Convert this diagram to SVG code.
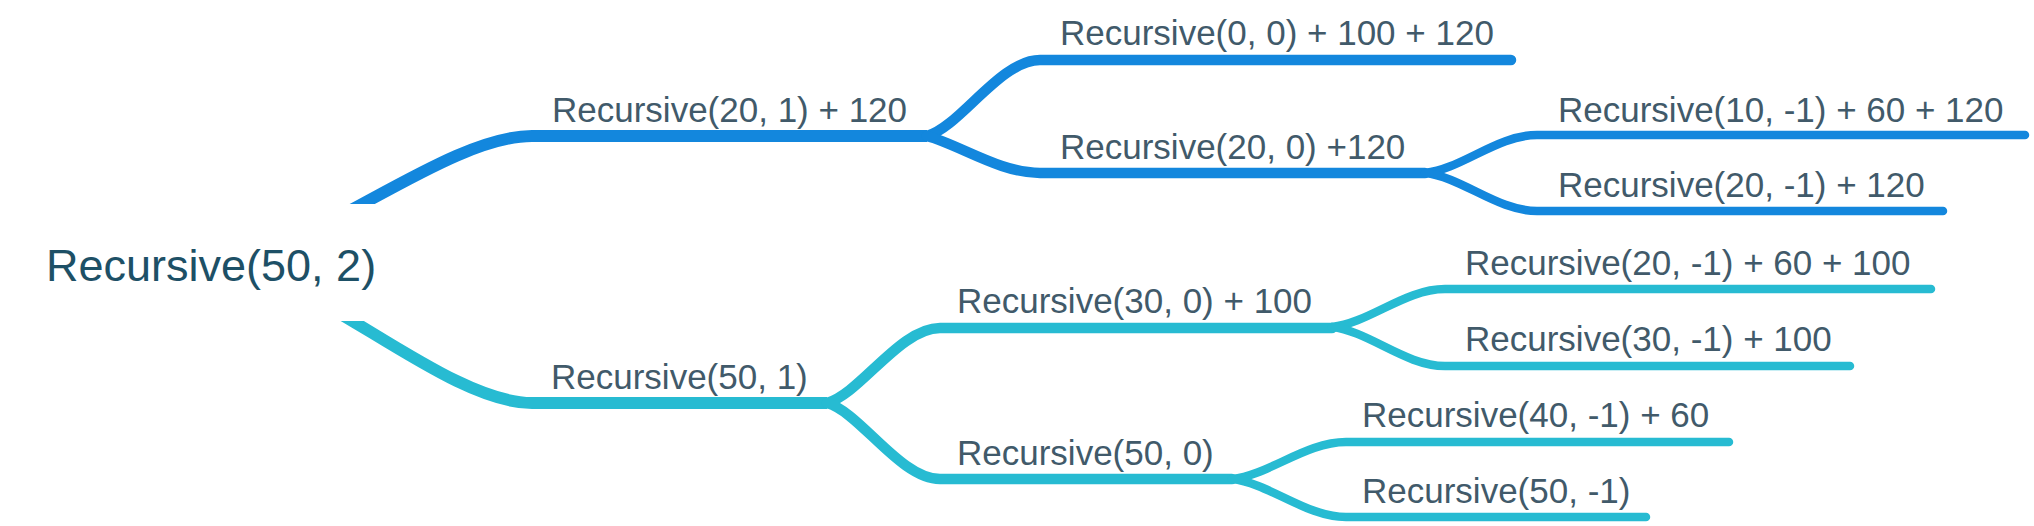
<svg xmlns="http://www.w3.org/2000/svg" width="2034" height="526" viewBox="0 0 2034 526">
<style>
.lbl{font-family:"Liberation Sans",Arial,sans-serif;font-size:35px;fill:#415a6a}
.root{font-family:"Liberation Sans",Arial,sans-serif;font-size:45px;fill:#1d5066}
.b{fill:none;stroke:#1387dd;stroke-linecap:round}
.c{fill:none;stroke:#27bbd2;stroke-linecap:round}
.w1{stroke-width:12}
.w2{stroke-width:10.5}
.w3{stroke-width:8.5}
</style>
<defs>
<clipPath id="rootcut"><path clip-rule="evenodd" d="M0 0H2034V526H0Z M0 204H420V321H0Z"/></clipPath>
</defs>
<g id="connectors">
<g clip-path="url(#rootcut)">
<path class="b w1" style="stroke-linecap:butt" d="M211 262 C301 262 442 136 532 136 H927"/>
<path class="c w1" style="stroke-linecap:butt" d="M211 262 C301 262 442 403 532 403 H827"/>
</g>
<path class="b w2" d="M927 136 C960 127 1000 60 1040 60 H1511"/>
<path class="b w2" d="M927 136 C960 145 1000 173 1040 173 H1425"/>
<path class="c w2" d="M827 403 C860 394 900 328 940 328 H1332"/>
<path class="c w2" d="M827 403 C860 412 900 479 940 479 H1232"/>
<path class="b w3" d="M1425 173 C1462 169 1497 135 1537 135 H2025"/>
<path class="b w3" d="M1425 173 C1462 177 1497 211 1537 211 H1943"/>
<path class="c w3" d="M1332 327 C1369 323 1405 289 1445 289 H1931"/>
<path class="c w3" d="M1332 327 C1369 331 1405 366 1445 366 H1850"/>
<path class="c w3" d="M1232 479 C1269 475 1306 442 1346 442 H1729"/>
<path class="c w3" d="M1232 479 C1269 483 1306 517 1346 517 H1646"/>
</g>
<g id="n0"><text class="root" x="46" y="281">Recursive(50, 2)</text></g>
<g id="n1"><text class="lbl" x="552" y="122">Recursive(20, 1) + 120</text></g>
<g id="n2"><text class="lbl" x="551" y="389">Recursive(50, 1)</text></g>
<g id="n3"><text class="lbl" x="1060" y="45">Recursive(0, 0) + 100 + 120</text></g>
<g id="n4"><text class="lbl" x="1060" y="159">Recursive(20, 0) +120</text></g>
<g id="n5"><text class="lbl" x="1558" y="122">Recursive(10, -1) + 60 + 120</text></g>
<g id="n6"><text class="lbl" x="1558" y="197">Recursive(20, -1) + 120</text></g>
<g id="n7"><text class="lbl" x="957" y="313">Recursive(30, 0) + 100</text></g>
<g id="n8"><text class="lbl" x="957" y="465">Recursive(50, 0)</text></g>
<g id="n9"><text class="lbl" x="1465" y="275">Recursive(20, -1) + 60 + 100</text></g>
<g id="n10"><text class="lbl" x="1465" y="351">Recursive(30, -1) + 100</text></g>
<g id="n11"><text class="lbl" x="1362" y="427">Recursive(40, -1) + 60</text></g>
<g id="n12"><text class="lbl" x="1362" y="503">Recursive(50, -1)</text></g>
</svg>
